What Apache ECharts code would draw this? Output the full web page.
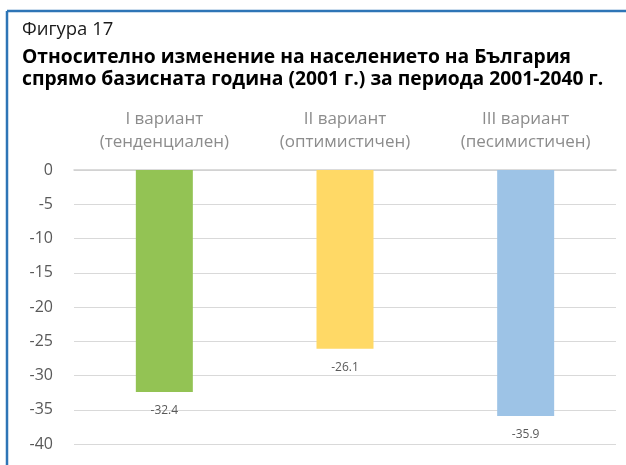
<!DOCTYPE html>
<html lang="bg">
<head>
	<meta charset="UTF-8">
	<title>Фигура 17</title>
	<script src="https://cdn.jsdelivr.net/npm/echarts@6/dist/echarts.min.js"></script>
	<style>
		body { margin: 0; }
		#chart { width: 626px; height: 465px; }
	</style>
</head>
<body>
	<div id="chart"></div>
<script>
	let categories = ['I вариант\n(тенденциален)', 'II вариант\n(оптимистичен)', 'III вариант\n(песимистичен)']
	let values = [-32.4, -26.1, -35.9]
	let barColors = ['#93c354', '#ffd966', '#9dc3e6']

	let mcharts = echarts.init(document.getElementById('chart'))

	let option = {
		backgroundColor: '#fff',
		textStyle: { fontFamily: 'Open Sans' },
		title: [
			{
				text: 'Фигура 17',
				left: 22, top: 20, padding: 0,
				textStyle: { fontSize: 18.5, lineHeight: 20, fontWeight: 'normal', color: '#1a1a1a', fontFamily: 'Open Sans' }
			},
			{
				text: 'Относително изменение на населението на България\nспрямо базисната година (2001 г.) за периода 2001-2040 г.',
				left: 22, top: 47, padding: 0,
				textStyle: { fontSize: 19.3, fontWeight: 'bold', color: '#000', lineHeight: 22, fontFamily: 'Open Sans' }
			}
		],
		graphic: [
			{ type: 'line', shape: { x1: 7, y1: 11, x2: 626, y2: 11 }, style: { stroke: '#2e75b6', lineWidth: 2.5 } },
			{ type: 'line', shape: { x1: 7, y1: 11, x2: 7, y2: 465 }, style: { stroke: '#2e75b6', lineWidth: 2.5 } }
		],
		grid: { left: 74, right: 10, top: 170, bottom: 21 },
		xAxis: {
			type: 'category',
			position: 'top',
			data: categories,
			axisLine: { lineStyle: { color: '#d0d0d0', width: 1.5 } },
			axisTick: { show: false },
			axisLabel: { color: '#8c8c8c', fontSize: 17, lineHeight: 23, margin: 16 }
		},
		yAxis: {
			type: 'value',
			min: -40, max: 0, interval: 5,
			axisLine: { show: false },
			axisTick: { show: false },
			splitLine: { lineStyle: { color: '#d9d9d9', width: 1 } },
			axisLabel: { color: '#595959', fontSize: 16, margin: 21 }
		},
		series: [
			{
				type: 'bar',
				barWidth: 57,
				data: values.map((v, i) => ({ value: v, itemStyle: { color: barColors[i] } })),
				label: {
					show: true,
					position: 'bottom',
					distance: 13,
					color: '#595959',
					fontSize: 12
				}
			}
		]
	}

	mcharts.setOption(option)
</script>
</body>
</html>
